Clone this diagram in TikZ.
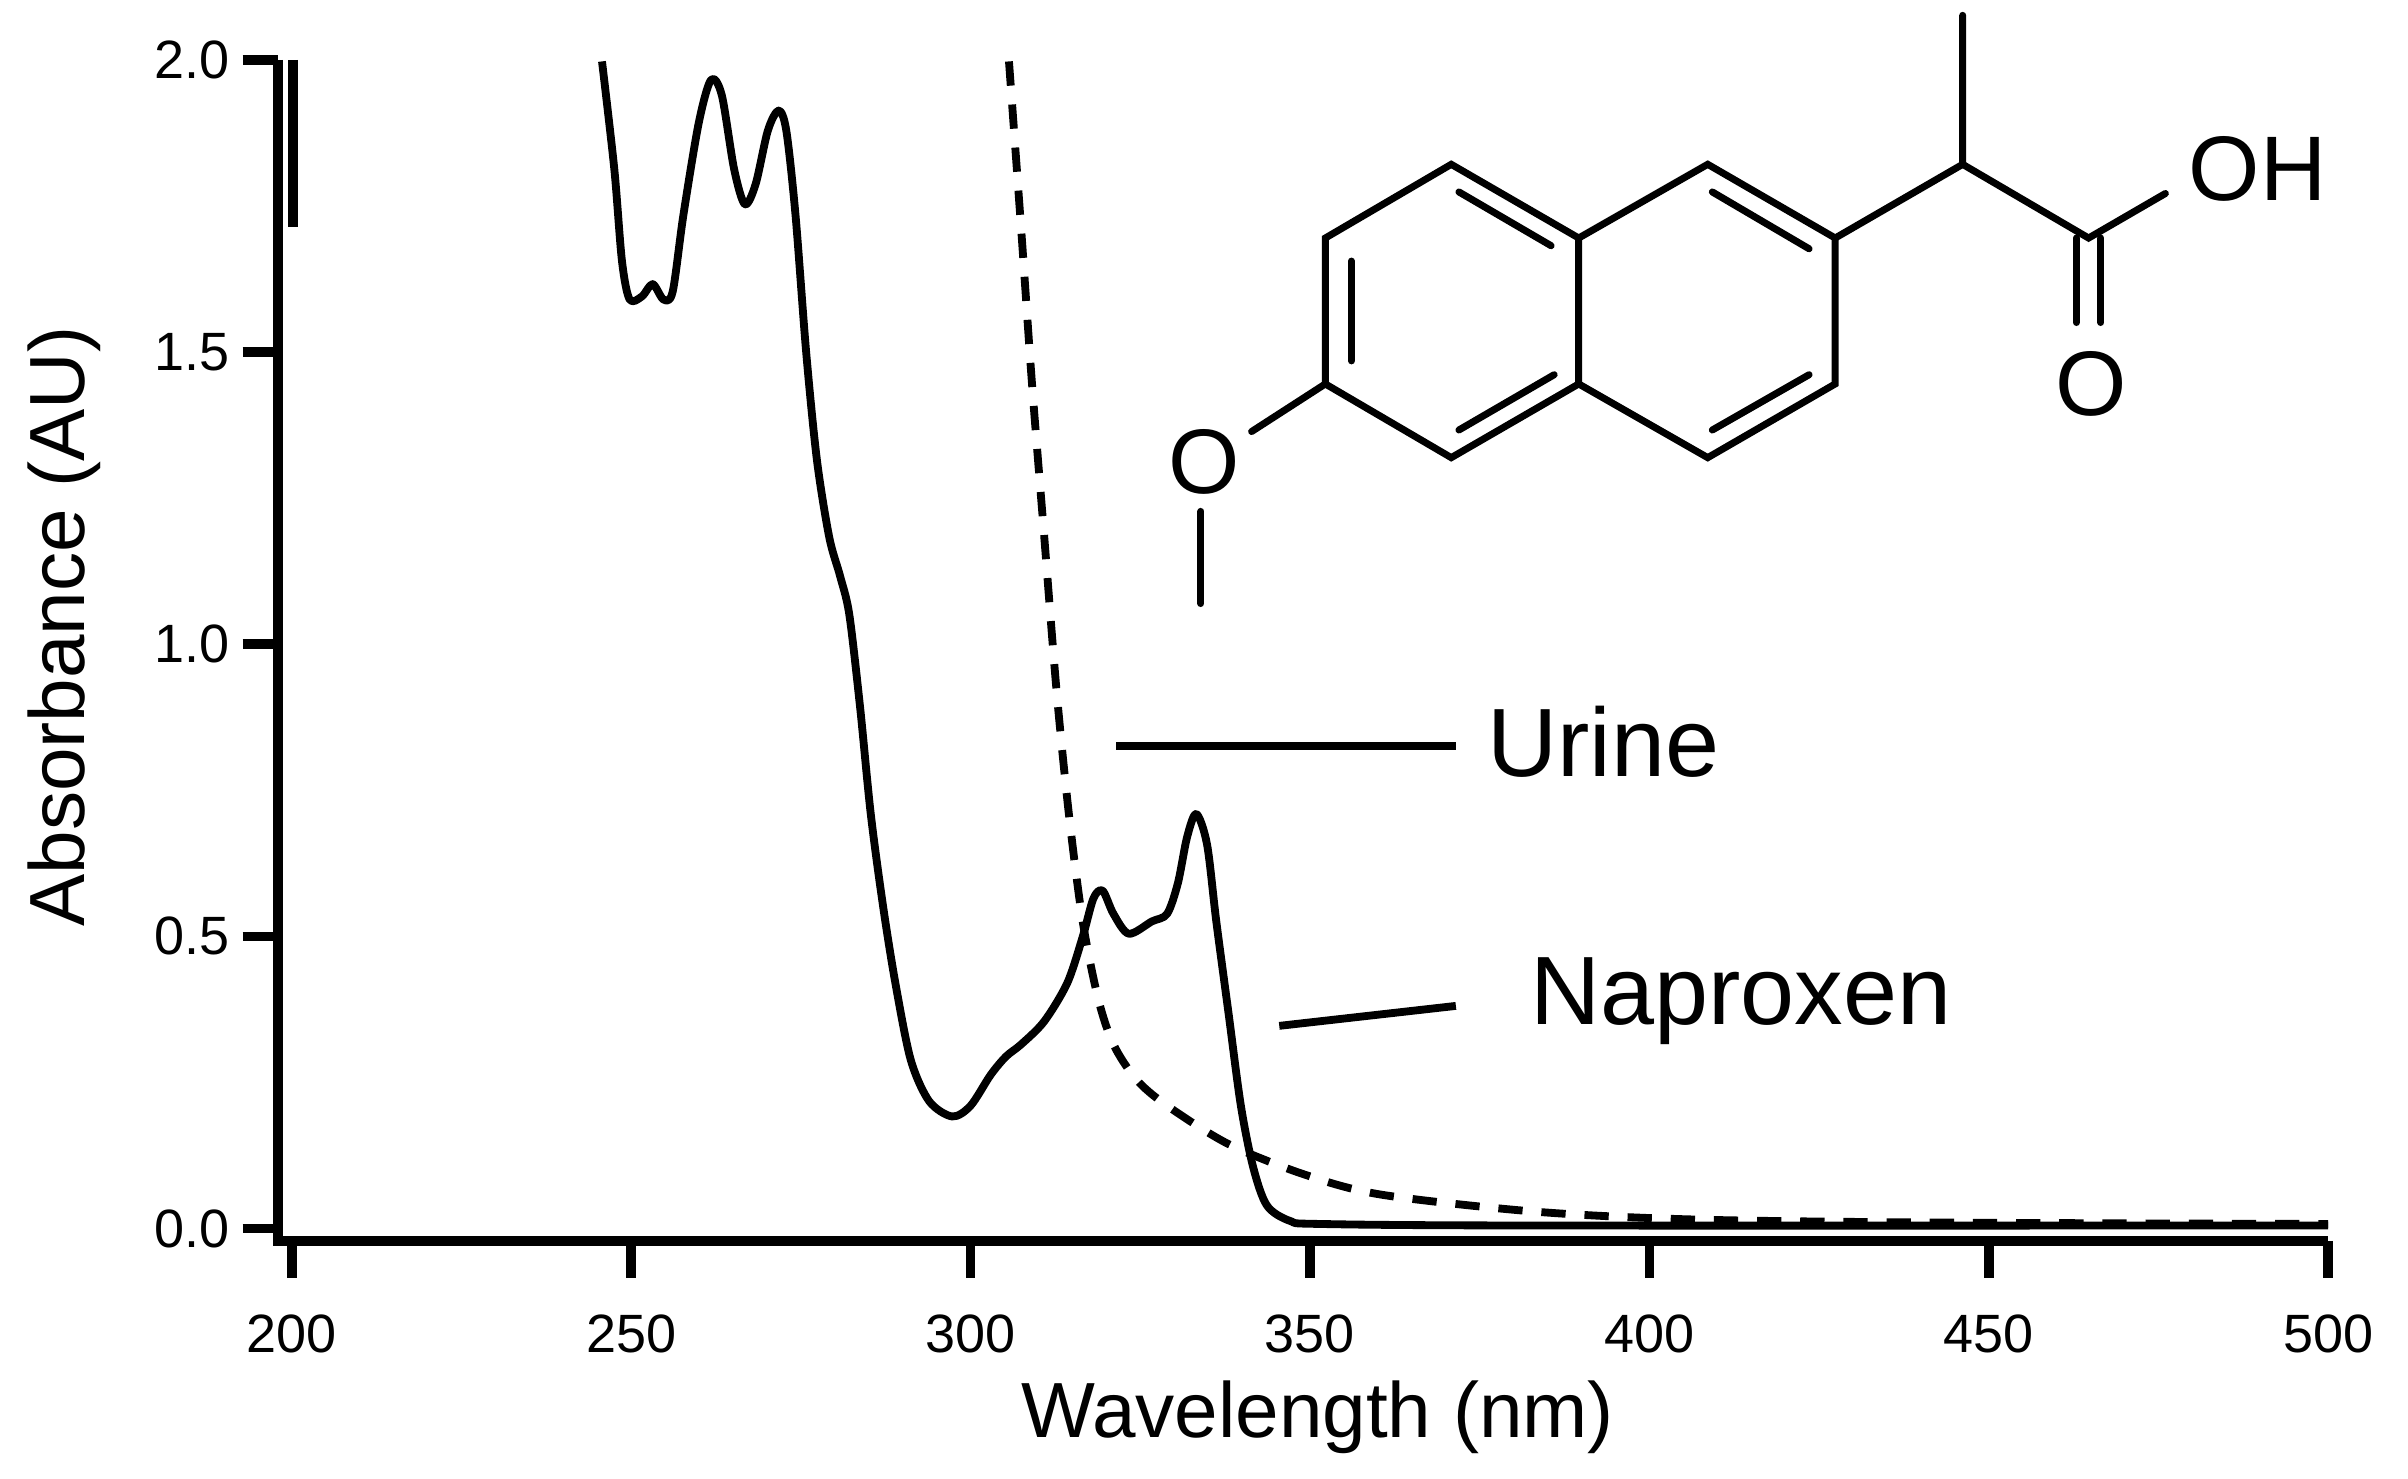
\documentclass[tikz,border=0pt]{standalone}
\usepackage{fontspec}
\setmainfont{Liberation Sans}
\begin{document}
\begin{tikzpicture}[x=0.02cm,y=-0.02cm,
  ax/.style={line width=3.6pt},
  crv/.style={line width=2.9pt,line join=round},
  bond/.style={line width=2.6pt,line cap=round},
  tl/.style={font=\fontsize{20}{24}\selectfont,inner sep=0pt},
  big/.style={font=\fontsize{36}{40}\selectfont,inner sep=0pt},
  atom/.style={font=\fontsize{34}{38}\selectfont,inner sep=0pt}]
\useasboundingbox (0,0) rectangle (1568,963);
% axes
\coordinate (o) at (181,808);
\coordinate (yt) at (181,39);
\coordinate (xr) at (1516,808);
\draw[ax] (yt) -- (o) -- (xr);
\draw[ax] (191,39) -- (191,148);
\foreach \v/\t in {0/0.0,0.5/0.5,1/1.0,1.5/1.5,2/2.0}{
  \draw[ax] (158,{800-380.5*\v}) -- (181,{800-380.5*\v});
  \node[tl,anchor=east] (yl\v) at (150,{800-380.5*\v}) {\t};}
\foreach \n in {200,250,...,500}{
  \draw[ax] ({190+4.42*(\n-200)},808) -- ({190+4.42*(\n-200)},832);
  \node[tl,anchor=north] (xl\n) at ({190+4.42*(\n-200)},856) {\n};}
\node[font=\fontsize{29}{32}\selectfont,anchor=north] (xt) at (858,893) {Wavelength (nm)};
\node[font=\fontsize{29}{32}\selectfont,rotate=90] (yti) at (42,408) {Absorbance (AU)};
% naproxen
\draw[crv] plot[smooth,tension=0.5] coordinates {(392,40)(400,110)(405,170)(410,195)(418,193)(425,185)(432,195)(438,190)(445,140)(455,80)(463,52)(470,62)(478,110)(485,133)(492,120)(500,85)(507,72)(512,85)(518,140)(525,230)(532,300)(540,350)(547,375)(553,400)(560,460)(567,530)(575,590)(583,640)(593,690)(605,717)(620,727)(632,720)(645,700)(655,688)(665,680)(680,665)(695,640)(705,610)(712,585)(718,580)(725,595)(735,608)(750,600)(760,595)(767,575)(773,545)(779,530)(786,550)(792,600)(800,660)(808,720)(816,760)(825,785)(840,795)(860,797)(1000,798)(1516,798)};
% urine
\draw[crv,dash pattern=on 9pt off 7pt] plot[smooth,tension=0.5] coordinates {(657,40)(665,150)(672,250)(680,350)(688,450)(696,530)(705,600)(715,650)(725,680)(740,703)(760,720)(800,745)(850,765)(900,778)(1000,789)(1100,794)(1250,796)(1516,797)};
% labels
\node[big,anchor=west] (ur) at (968,483) {Urine};
\draw[crv] (727,486) -- (948,486);
\node[big,anchor=west] (np) at (996,652) {Naproxen};
\draw[crv] (833,668) -- (948,655);
% molecule
\coordinate (a1) at (945,107); \coordinate (a2) at (863,155);
\coordinate (a3) at (863,250); \coordinate (a4) at (945,298);
\coordinate (a5) at (1028,250); \coordinate (a6) at (1028,155);
\coordinate (b1) at (1112,107); \coordinate (b2) at (1195,155);
\coordinate (b3) at (1195,250); \coordinate (b4) at (1112,298);
\coordinate (c1) at (1278,107); \coordinate (c2) at (1278,10);
\coordinate (c3) at (1360,155);
\draw[bond,line join=miter] (a1)--(a2)--(a3)--(a4)--(a5)--(a6)--cycle;
\draw[bond] (a6)--(b1)--(b2)--(b3)--(b4)--(a5);
\draw[bond] (a1)++(5,18) -- ++(60,35);
\draw[bond] (880,170) -- (880,235);
\draw[bond] (950,280) -- (1012,244);
\draw[bond] (1115,125) -- (1178,162);
\draw[bond] (1178,244) -- (1115,280);
\draw[bond] (b2)--(c1)--(c2);
\draw[bond] (c1)--(c3)--(1410,126);
\node[atom] (oh) at (1470,110) {OH};
\draw[bond] (1352,155) -- (1352,210);
\draw[bond] (1368,155) -- (1368,210);
\node[atom] (o2) at (1362,250) {O};
\draw[bond] (a3) -- (815,281);
\node[atom] (o1) at (784,301) {O};
\draw[bond] (782,333) -- (782,393);
\end{tikzpicture}
\end{document}
